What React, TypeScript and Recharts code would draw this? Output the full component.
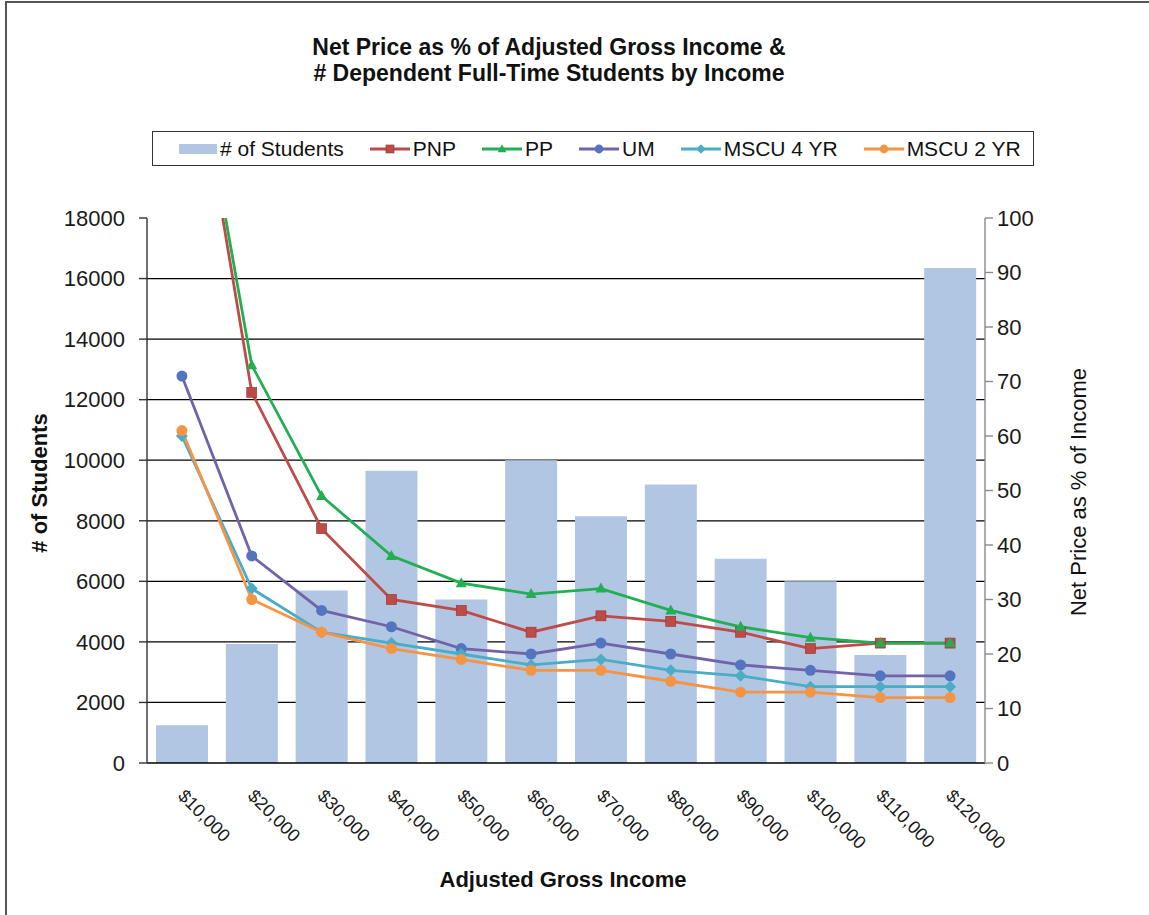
import React from 'react';
import { ComposedChart, Bar, Line, XAxis, YAxis, CartesianGrid } from 'recharts';

// Income brackets (x categories)
const incomeLabels = [
  '$10,000', '$20,000', '$30,000', '$40,000', '$50,000', '$60,000',
  '$70,000', '$80,000', '$90,000', '$100,000', '$110,000', '$120,000',
];

// Number of dependent full-time students per bracket (left axis)
const studentCounts = [1250, 3930, 5700, 9650, 5400, 10000, 8150, 9200, 6750, 6000, 3570, 16350];

// Net price as % of income (right axis)
const pnpPct = [145, 68, 43, 30, 28, 24, 27, 26, 24, 21, 22, 22];
const ppPct = [145, 73, 49, 38, 33, 31, 32, 28, 25, 23, 22, 22];
const umPct = [71, 38, 28, 25, 21, 20, 22, 20, 18, 17, 16, 16];
const mscu4Pct = [60, 32, 24, 22, 20, 18, 19, 17, 16, 14, 14, 14];
const mscu2Pct = [61, 30, 24, 21, 19, 17, 17, 15, 13, 13, 12, 12];

const leftTicks = [0, 2000, 4000, 6000, 8000, 10000, 12000, 14000, 16000, 18000];
const rightTicks = [0, 10, 20, 30, 40, 50, 60, 70, 80, 90, 100];
const gridValues = [2000, 4000, 6000, 8000, 10000, 12000, 14000, 16000];

const FONT = '"Liberation Sans", Arial, Helvetica, sans-serif';
const BAR_COLOR = '#B1C6E3';

type Shape = 'square' | 'triangle' | 'circle' | 'diamond';

const lineSeries: { key: string; name: string; stroke: string; marker: string; shape: Shape; values: number[] }[] = [
  { key: 'pnp', name: 'PNP', stroke: '#BE4B48', marker: '#BE4B48', shape: 'square', values: pnpPct },
  { key: 'pp', name: 'PP', stroke: '#22AE52', marker: '#22AE52', shape: 'triangle', values: ppPct },
  { key: 'um', name: 'UM', stroke: '#7263A9', marker: '#5574C0', shape: 'circle', values: umPct },
  { key: 'mscu4', name: 'MSCU 4 YR', stroke: '#4BACC6', marker: '#4BACC6', shape: 'diamond', values: mscu4Pct },
  { key: 'mscu2', name: 'MSCU 2 YR', stroke: '#F59444', marker: '#F59444', shape: 'circle', values: mscu2Pct },
];

const data = incomeLabels.map((income, i) => {
  const row: Record<string, string | number> = { income, students: studentCounts[i] };
  lineSeries.forEach((s) => {
    row[s.key] = s.values[i];
  });
  return row;
});

function Marker({ shape, cx, cy, fill, size = 1 }: { shape: Shape; cx: number; cy: number; fill: string; size?: number }) {
  const s = size;
  switch (shape) {
    case 'square':
      return <rect x={cx - 5 * s} y={cy - 5 * s} width={10 * s} height={10 * s} fill={fill} stroke="#8E3431" strokeWidth={0.6} />;
    case 'triangle':
      return (
        <polygon
          points={`${cx},${cy - 6 * s} ${cx + 5.5 * s},${cy + 4 * s} ${cx - 5.5 * s},${cy + 4 * s}`}
          fill={fill}
        />
      );
    case 'diamond':
      return (
        <polygon
          points={`${cx},${cy - 6 * s} ${cx + 6 * s},${cy} ${cx},${cy + 6 * s} ${cx - 6 * s},${cy}`}
          fill={fill}
        />
      );
    default:
      return <circle cx={cx} cy={cy} r={5.5 * s} fill={fill} />;
  }
}

function makeDot(shape: Shape, fill: string) {
  return (p: any) => {
    if (p == null || p.cx == null || p.cy == null) return <g key={`d-${p?.index}`} />;
    return (
      <g key={`d-${p.index}`}>
        <Marker shape={shape} cx={p.cx} cy={p.cy} fill={fill} />
      </g>
    );
  };
}

function IncomeTick(props: any) {
  const { x, y, payload } = props;
  const tx = x - 5;
  const ty = y + 34;
  return (
    <text
      x={tx}
      y={ty}
      transform={`rotate(45, ${tx}, ${ty})`}
      textAnchor="start"
      fontSize={18}
      fontFamily={FONT}
      fill="#1a1a1a"
    >
      {payload.value}
    </text>
  );
}

function LegendBox() {
  return (
    <div
      style={{
        position: 'absolute',
        left: 152,
        top: 131,
        width: 882,
        height: 35,
        boxSizing: 'border-box',
        border: '1.5px solid #333',
        display: 'flex',
        alignItems: 'center',
        paddingLeft: 26,
        gap: 26,
        fontFamily: FONT,
        fontSize: 21,
        color: '#111',
        whiteSpace: 'nowrap',
        background: '#fff',
      }}
    >
      <div style={{ display: 'flex', alignItems: 'center' }}>
        <div style={{ width: 38, height: 10, background: BAR_COLOR, marginRight: 3 }} />
        <span># of Students</span>
      </div>
      {lineSeries.map((s) => (
        <div key={s.key} style={{ display: 'flex', alignItems: 'center' }}>
          <svg width={40} height={14} style={{ marginRight: 3 }}>
            <line x1={0} y1={7} x2={40} y2={7} stroke={s.stroke} strokeWidth={3} />
            <Marker shape={s.shape} cx={20} cy={7} fill={s.marker} size={0.8} />
          </svg>
          <span>{s.name}</span>
        </div>
      ))}
    </div>
  );
}

export default function App() {
  return (
    <div
      style={{
        position: 'absolute',
        left: 0,
        top: 0,
        width: 1149,
        height: 915,
        overflow: 'hidden',
        background: '#fff',
      }}
    >
      {/* outer frame of the chart area */}
      <div
        style={{
          position: 'absolute',
          left: 5,
          top: 1,
          width: 1300,
          height: 1100,
          border: '2px solid #555',
        }}
      />

      <div style={{ position: 'absolute', left: 0, top: 0 }}>
        <ComposedChart
          width={1149}
          height={915}
          data={data}
          margin={{ top: 218, right: 84, bottom: 52, left: 47 }}
          style={{ fontFamily: FONT }}
        >
          <CartesianGrid
            yAxisId="left"
            vertical={false}
            horizontalValues={gridValues}
            stroke="#000"
            strokeWidth={1.3}
          />
          <XAxis
            dataKey="income"
            interval={0}
            height={100}
            tickLine={false}
            tickSize={0}
            tickMargin={0}
            axisLine={{ stroke: '#000', strokeWidth: 1.4 }}
            tick={<IncomeTick />}
          />
          <YAxis
            yAxisId="left"
            orientation="left"
            domain={[0, 18000]}
            ticks={leftTicks}
            interval={0}
            width={100}
            tickSize={8}
            tickMargin={14}
            axisLine={{ stroke: '#333', strokeWidth: 1.4 }}
            tickLine={{ stroke: '#333', strokeWidth: 1.4 }}
            tick={{ fontSize: 22, fill: '#1a1a1a', fontFamily: FONT }}
          />
          <YAxis
            yAxisId="right"
            orientation="right"
            domain={[0, 100]}
            allowDataOverflow
            ticks={rightTicks}
            interval={0}
            width={80}
            tickSize={8}
            tickMargin={4}
            axisLine={{ stroke: '#8a8a8a', strokeWidth: 1.4 }}
            tickLine={{ stroke: '#8a8a8a', strokeWidth: 1.4 }}
            tick={{ fontSize: 22, fill: '#1a1a1a', fontFamily: FONT }}
          />
          <Bar yAxisId="left" dataKey="students" name="# of Students" fill={BAR_COLOR} barSize={52} isAnimationActive={false} />
          {lineSeries.map((s) => (
            <Line
              key={s.key}
              yAxisId="right"
              type="linear"
              dataKey={s.key}
              name={s.name}
              stroke={s.stroke}
              strokeWidth={2.8}
              dot={makeDot(s.shape, s.marker)}
              activeDot={false}
              isAnimationActive={false}
            />
          ))}
        </ComposedChart>
      </div>

      <LegendBox />

      {/* titles */}
      <svg
        width={1149}
        height={915}
        style={{ position: 'absolute', left: 0, top: 0, pointerEvents: 'none' }}
        fontFamily={FONT}
      >
        <text x={549} y={55} textAnchor="middle" fontSize={23} fontWeight="bold" fill="#111">
          Net Price as % of Adjusted Gross Income &amp;
        </text>
        <text x={549} y={81} textAnchor="middle" fontSize={23} fontWeight="bold" fill="#111">
          # Dependent Full-Time Students by Income
        </text>
        <text x={563} y={887} textAnchor="middle" fontSize={22} fontWeight="bold" fill="#111">
          Adjusted Gross Income
        </text>
        <text transform="translate(47,483) rotate(-90)" textAnchor="middle" fontSize={22} fontWeight="bold" fill="#111">
          # of Students
        </text>
        <text transform="translate(1086,492) rotate(-90)" textAnchor="middle" fontSize={22} fill="#111">
          Net Price as % of Income
        </text>
      </svg>
    </div>
  );
}
